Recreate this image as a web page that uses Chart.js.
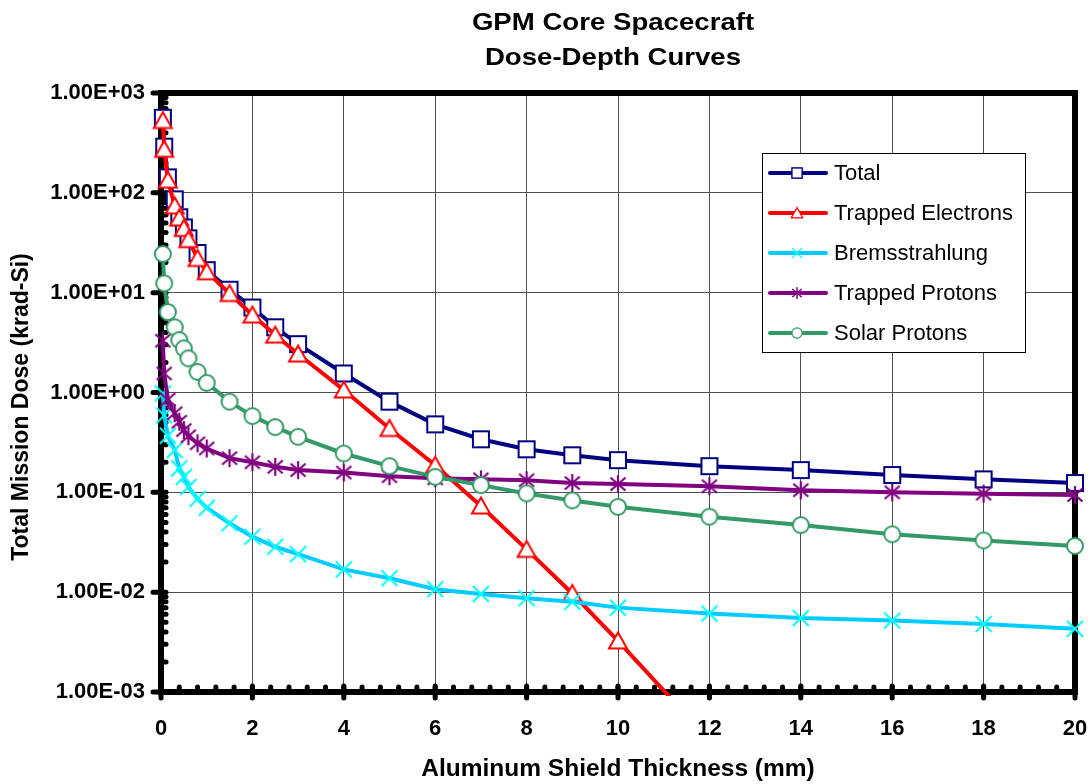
<!DOCTYPE html>
<html>
<head>
<meta charset="utf-8">
<script src="https://cdn.jsdelivr.net/npm/chart.js@4"></script>
<style>
  html, body { margin: 0; background: #fff; }
  #wrap { width: 1091px; height: 784px; }
</style>
</head>
<body>
<div id="wrap"><canvas id="chart"></canvas></div>
<script>
// shield thickness in mm
const thickness = [0.04, 0.07, 0.15, 0.3, 0.4, 0.5, 0.6, 0.8, 1.0, 1.5, 2, 2.5, 3, 4, 5, 6, 7, 8, 9, 10, 12, 14, 16, 18, 20];

// dose in krad-Si
const total = [565, 290, 143, 86, 57, 45, 35, 25, 16.8, 10.7, 7.1, 4.5, 3.05, 1.55, 0.81, 0.48, 0.34, 0.27, 0.235, 0.21, 0.183, 0.167, 0.149, 0.135, 0.124];
const trappedElectrons = [530, 273, 134, 74, 56, 44, 34, 22, 16.2, 9.8, 5.97, 3.76, 2.43, 1.06, 0.436, 0.187, 0.073, 0.0268, 0.0097, 0.00325, 0.00033, null, null, null, null];
const bremsstrahlung = [0.98, 0.59, 0.37, 0.265, 0.174, 0.143, 0.113, 0.086, 0.07, 0.049, 0.036, 0.0285, 0.024, 0.0169, 0.0138, 0.0107, 0.0096, 0.0087, 0.008, 0.0070, 0.0061, 0.0055, 0.0052, 0.0048, 0.0043];
const trappedProtons = [3.3, 1.55, 0.85, 0.62, 0.51, 0.42, 0.365, 0.31, 0.275, 0.22, 0.2, 0.18, 0.167, 0.158, 0.145, 0.138, 0.135, 0.132, 0.124, 0.121, 0.115, 0.105, 0.100, 0.097, 0.094];
const solarProtons = [24.4, 12.4, 6.4, 4.5, 3.35, 2.77, 2.2, 1.61, 1.25, 0.81, 0.58, 0.45, 0.36, 0.245, 0.183, 0.143, 0.118, 0.0975, 0.083, 0.0716, 0.057, 0.047, 0.038, 0.033, 0.029];

const decades = [1e-3, 1e-2, 1e-1, 1e0, 1e1, 1e2, 1e3];
const xMinor = [];
for (let i = 0; i <= 50; i++) xMinor.push(i * 0.4);

const FONT = '"Liberation Sans", Arial, sans-serif';

// hand-drawn excel-ish markers
function makeMarker(kind, color) {
  const c = document.createElement('canvas');
  c.width = 22; c.height = 22;
  const g = c.getContext('2d');
  g.strokeStyle = color;
  g.fillStyle = '#fff';
  g.lineWidth = 2;
  g.beginPath();
  if (kind == 'square') {
    g.rect(3, 3, 16, 16);
    g.fill(); g.stroke();
  } else if (kind == 'triangle') {
    g.moveTo(11, 2.5); g.lineTo(20, 18.5); g.lineTo(2, 18.5); g.closePath();
    g.fill(); g.stroke();
  } else if (kind == 'circle') {
    g.arc(11, 11, 8, 0, Math.PI * 2);
    g.fill(); g.stroke();
  } else if (kind == 'x') {
    g.moveTo(3, 3); g.lineTo(19, 19); g.moveTo(19, 3); g.lineTo(3, 19);
    g.stroke();
  } else if (kind == 'star') {
    g.lineWidth = 2.2;
    g.moveTo(3.5, 4.5); g.lineTo(18.5, 17.5); g.moveTo(18.5, 4.5); g.lineTo(3.5, 17.5);
    g.moveTo(11, 2); g.lineTo(11, 20);
    g.stroke();
  }
  return c;
}

const series = [
  {label: 'Total', values: total, line: '#000080', marker: makeMarker('square', '#000080')},
  {label: 'Trapped Electrons', values: trappedElectrons, line: '#FF0000', marker: makeMarker('triangle', '#FF0000')},
  {label: 'Bremsstrahlung', values: bremsstrahlung, line: '#00CCFF', marker: makeMarker('x', '#00FFFF')},
  {label: 'Trapped Protons', values: trappedProtons, line: '#800080', marker: makeMarker('star', '#800080')},
  {label: 'Solar Protons', values: solarProtons, line: '#339966', marker: makeMarker('circle', '#339966')},
];

function sci(v) {
  const e = Math.round(Math.log10(v));
  const m = (v / Math.pow(10, e)).toFixed(2);
  return m + 'E' + (e < 0 ? '-' : '+') + String(Math.abs(e)).padStart(2, '0');
}

// thick plot frame plus the round excel tick marks
const framePlugin = {
  id: 'frame',
  beforeDatasetsDraw(chart) {
    const {ctx, chartArea: a, scales: {x, y}} = chart;
    ctx.save();
    ctx.strokeStyle = '#000';
    ctx.lineCap = 'round';
    ctx.lineWidth = 5;
    // minor ticks, x
    xMinor.forEach(v => {
      const px = x.getPixelForValue(v);
      ctx.beginPath(); ctx.moveTo(px, a.bottom - 5); ctx.lineTo(px, a.bottom - 1); ctx.stroke();
    });
    // minor ticks, y (2..9 per decade)
    for (let d = -3; d < 3; d++) {
      for (let k = 2; k <= 9; k++) {
        const py = y.getPixelForValue(k * Math.pow(10, d));
        ctx.beginPath(); ctx.moveTo(a.left + 1, py); ctx.lineTo(a.left + 5, py); ctx.stroke();
      }
    }
    // major ticks
    for (let v = 0; v <= 20; v += 2) {
      const px = x.getPixelForValue(v);
      ctx.beginPath(); ctx.moveTo(px, a.bottom - 6); ctx.lineTo(px, a.bottom + 6); ctx.stroke();
    }
    decades.forEach(v => {
      const py = y.getPixelForValue(v);
      ctx.beginPath(); ctx.moveTo(a.left - 8, py); ctx.lineTo(a.left + 5, py); ctx.stroke();
    });
    ctx.lineCap = 'butt';
    ctx.lineWidth = 6;
    ctx.strokeRect(a.left, a.top, a.right - a.left, a.bottom - a.top);
    ctx.restore();
  },
  afterDraw(chart) {
    const {ctx} = chart;
    ctx.save();
    // title
    ctx.fillStyle = '#000';
    ctx.textAlign = 'center';
    ctx.textBaseline = 'middle';
    ctx.font = 'bold 24px ' + FONT;
    ['GPM Core Spacecraft', 'Dose-Depth Curves'].forEach((t, i) => {
      ctx.save();
      ctx.translate(613, 23 + i * 35);
      ctx.scale(1.15, 1);
      ctx.fillText(t, 0, 0);
      ctx.restore();
    });
    // y axis title
    ctx.save();
    ctx.translate(22, 407);
    ctx.rotate(-Math.PI / 2);
    ctx.font = 'bold 23px ' + FONT;
    ctx.fillText('Total Mission Dose (krad-Si)', 0, 0);
    ctx.restore();
    // legend box
    const bx = 762, by = 153, bw = 263, bh = 199;
    ctx.fillStyle = '#fff';
    ctx.fillRect(bx, by, bw, bh);
    ctx.strokeStyle = '#000';
    ctx.lineWidth = 1;
    ctx.strokeRect(bx + 0.5, by + 0.5, bw, bh);
    ctx.textAlign = 'left';
    ctx.font = '22px ' + FONT;
    series.forEach((s, i) => {
      const yy = 173 + i * 40;
      ctx.strokeStyle = s.line;
      ctx.lineWidth = 4;
      ctx.lineCap = 'round';
      ctx.beginPath(); ctx.moveTo(770, yy); ctx.lineTo(826, yy); ctx.stroke();
      ctx.drawImage(s.marker, 797 - 7, yy - 7, 14, 14);
      ctx.fillStyle = '#000';
      ctx.fillText(s.label, 834, yy + 1);
    });
    ctx.restore();
  }
};

const ctx = document.getElementById('chart').getContext('2d');
const myChart = new Chart(ctx, {
  type: 'line',
  data: {
    datasets: series.map((s, i) => ({
      label: s.label,
      data: thickness.map((t, j) => ({x: t, y: s.values[j]})),
      borderColor: s.line,
      borderWidth: 4,
      backgroundColor: '#fff',
      pointStyle: s.marker,
      pointRadius: 9,
      tension: 0,
      spanGaps: false,
      order: series.length - i,
      clip: {left: 14, top: 14, right: 14, bottom: 4}
    }))
  },
  options: {
    responsive: true,
    maintainAspectRatio: false,
    animation: false,
    devicePixelRatio: 1,
    layout: {padding: {top: 93, right: 16, left: 0, bottom: 0}},
    plugins: {
      legend: {display: false},
      tooltip: {enabled: false}
    },
    scales: {
      x: {
        type: 'linear',
        min: 0,
        max: 20,
        afterFit: s => { s.height = 92; s.paddingLeft = 0; s.paddingRight = 0; },
        ticks: {stepSize: 2, color: '#000', padding: 24, font: {family: FONT, size: 22, weight: 'bold'}},
        grid: {color: '#505050', lineWidth: 1, drawTicks: false},
        border: {display: false},
        title: {display: true, text: 'Aluminum Shield Thickness (mm)', color: '#000',
                font: {family: FONT, size: 24.5, weight: 'bold'}, padding: {top: 0, bottom: 0}}
      },
      y: {
        type: 'logarithmic',
        min: 1e-3,
        max: 1e3,
        afterFit: s => { s.width = 161; s.paddingTop = 0; s.paddingBottom = 0; },
        afterBuildTicks: s => { s.ticks = decades.map(v => ({value: v})); },
        ticks: {color: '#000', padding: 16, font: {family: FONT, size: 22, weight: 'bold'},
                callback: v => sci(v)},
        grid: {color: '#505050', lineWidth: 1, drawTicks: false},
        border: {display: false},
        title: {display: false}
      }
    }
  },
  plugins: [framePlugin]
});
</script>
</body>
</html>
